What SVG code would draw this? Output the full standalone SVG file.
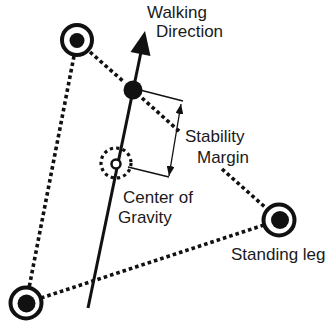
<svg xmlns="http://www.w3.org/2000/svg" width="330" height="323" viewBox="0 0 330 323">
<defs>
<style>
.dot{fill:none;stroke:#111;stroke-width:3.6;stroke-dasharray:3.6 3}
.ring{fill:none;stroke:#111;stroke-width:4}
.fill{fill:#111}
.thin{stroke:#111;stroke-width:1.3;fill:none}
.lbl{font-family:"Liberation Sans",Arial,sans-serif;font-size:17px;fill:#1a1a1a}
</style>
<marker id="ah" viewBox="0 0 10 8" refX="10" refY="4" markerWidth="10" markerHeight="8" markerUnits="userSpaceOnUse" orient="auto-start-reverse">
<path d="M0,0 L10,4 L0,8 Z" fill="#111"/>
</marker>
</defs>
<rect width="330" height="323" fill="#fff"/>
<g id="connectors">
<path class="dot" d="M90,52 L124,82"/>
<path class="dot" d="M142,98 L180,132"/>
<path class="dot" d="M222,169 L266,208"/>
<path class="dot" d="M74,56 L29,288"/>
<path class="dot" d="M41,298 L264,225"/>
<line x1="88" y1="308" x2="141" y2="52" stroke="#111" stroke-width="3"/>
<polygon points="145,31 130.5,52 150.5,56" fill="#111"/>
<line class="thin" x1="140" y1="90" x2="183" y2="101"/>
<line class="thin" x1="128" y1="167" x2="169" y2="177"/>
<line class="thin" x1="181" y1="104" x2="169" y2="176" marker-start="url(#ah)" marker-end="url(#ah)"/>
</g>
<g id="leg1">
<circle class="ring" cx="77" cy="40" r="15"/>
<circle class="fill" cx="77" cy="40.5" r="7.5"/>
</g>
<g id="leg2">
<circle class="ring" cx="279" cy="220" r="15.5"/>
<circle class="fill" cx="280" cy="220" r="9"/>
</g>
<g id="leg3">
<circle class="ring" cx="26" cy="303" r="15.5"/>
<circle class="fill" cx="26.5" cy="303.5" r="9"/>
</g>
<g id="projection">
<circle class="fill" cx="133" cy="90" r="9.5"/>
</g>
<g id="cog">
<circle cx="116" cy="163" r="15" fill="none" stroke="#111" stroke-width="3.2" stroke-dasharray="3.2 3.2"/>
<circle cx="116" cy="164" r="4.5" fill="#fff" stroke="#111" stroke-width="2.5"/>
</g>
<g id="labels">
<text class="lbl" x="147" y="18">Walking</text>
<text class="lbl" x="156" y="37">Direction</text>
<text class="lbl" x="185" y="142">Stability</text>
<text class="lbl" x="197" y="163">Margin</text>
<text class="lbl" x="123" y="203">Center of</text>
<text class="lbl" x="118" y="223">Gravity</text>
<text class="lbl" x="231" y="260">Standing leg</text>
</g>
</svg>
